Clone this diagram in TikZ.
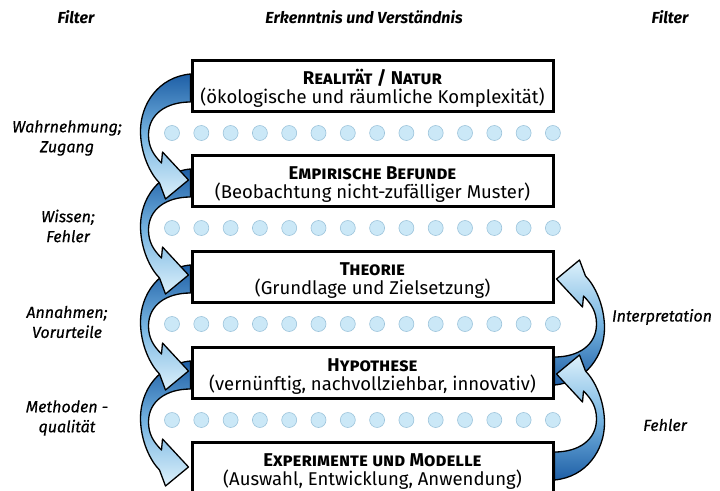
\documentclass[tikz,border=0pt]{standalone}
\usepackage{fontspec}
\setmainfont{Fira Sans}
\newfontfamily\filterfont{Fira Sans}[FakeBold=0.5]

\definecolor{arrdark}{HTML}{1E5FA6}
\definecolor{arrmid}{HTML}{78B6E2}
\definecolor{arrlight}{HTML}{DDF1FB}
\definecolor{dotfill}{HTML}{CBE8F7}
\definecolor{dotline}{HTML}{9DC4DB}

\tikzset{
  box/.style={draw=black, line width=3pt, fill=white, minimum width=361pt,
    minimum height=51pt, inner sep=0pt, align=center, text height=39pt,
    text depth=5pt, font=\fontsize{18.5}{19}\selectfont},
  head/.style={font=\fontsize{16}{19}\selectfont\bfseries\itshape},
  filt/.style={font=\filterfont\fontsize{16}{20}\selectfont\itshape, align=center},
  dot/.style={draw=dotline, fill=dotfill, line width=0.6pt},
  flow/.style={draw=black, line width=1.3pt, line join=round,
    top color=arrdark, bottom color=arrlight, middle color=arrmid},
  flowup/.style={draw=black, line width=1.3pt, line join=round,
    top color=arrlight, bottom color=arrdark, middle color=arrmid},
}

% curved ribbon arrow, local frame = corner of the box it starts from
\newcommand{\ribbon}{(0,15) .. controls (-32,18) and (-50,45) .. (-50,72)
  .. controls (-50,95) and (-40,115) .. (-31,124) -- (-25,140) -- (-2,121)
  -- (-28,93) -- (-29,104) .. controls (-37,96) and (-42,88) .. (-42,76)
  .. controls (-42,55) and (-24,43) .. (0,43) -- cycle}

\begin{document}
\begin{tikzpicture}[x=1pt,y=-1pt]
\useasboundingbox (0,0) rectangle (720,490);
\clip (0,0) rectangle (720,490);

%headers
\node[head] (fl) at (76,17) {Filter};
\node[head] (ev) at (364,17) {Erkenntnis und Verständnis};
\node[head] (fr) at (670,17) {Filter};

%dots between the levels
\foreach \y in {133,228,324,420}
  \foreach \i in {0,...,13}
    \draw[dot] ({172+29.3*\i},\y) circle (7.5pt);

%levels
\node[box] (b1) at (372.5,86) {\textbf{\textsc{Realität / Natur}}\\(ökologische und räumliche Komplexität)};
\node[box] (b2) at (372.5,181) {\textbf{\textsc{Empirische Befunde}}\\(Beobachtung nicht-zufälliger Muster)};
\node[box] (b3) at (372.5,277) {\textbf{\textsc{Theorie}}\\(Grundlage und Zielsetzung)};
\node[box] (b4) at (372.5,373) {\textbf{\textsc{Hypothese}}\\(vernünftig, nachvollziehbar, innovativ)};
\node[box] (b5) at (372.5,468) {\textbf{\textsc{Experimente und Modelle}}\\(Auswahl, Entwicklung, Anwendung)};

%left arrows (downwards)
\foreach \b in {b4,b3,b2,b1}{
  \begin{scope}[shift={(\b.north west)}]
    \shade[flow] \ribbon;
  \end{scope}
}

%right arrows (upwards)
\foreach \b in {b4,b5}{
  \begin{scope}[shift={(\b.south east)},rotate=180]
    \shade[flowup] \ribbon;
  \end{scope}
}

%filter labels
\node[filt] (w1) at (67,138) {Wahrnehmung;\\Zugang};
\node[filt] (w2) at (68,226) {Wissen;\\Fehler};
\node[filt] (w3) at (67,322) {Annahmen;\\Vorurteile};
\node[filt] (w4) at (67,418) {Methoden -\\qualität};
\node[filt] (w5) at (662,317) {Interpretation};
\node[filt] (w6) at (665,425) {Fehler};

\end{tikzpicture}
\end{document}
